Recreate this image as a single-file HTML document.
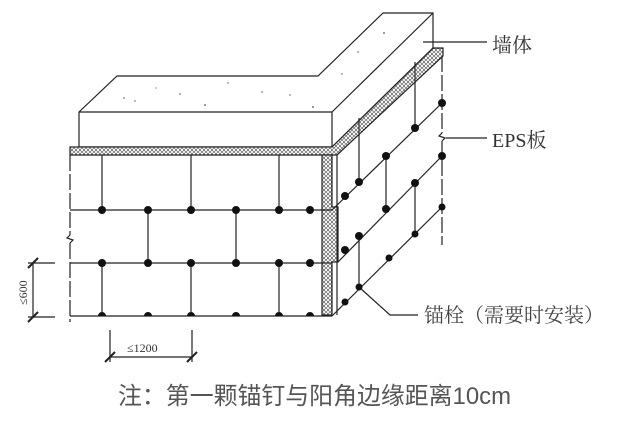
<!DOCTYPE html>
<html><head><meta charset="utf-8"><style>
html,body{margin:0;padding:0;background:#fff;width:640px;height:422px;overflow:hidden}
svg{display:block}
text{font-family:"Liberation Serif","Noto Serif CJK SC",serif}
</style></head><body>
<svg width="640" height="422" viewBox="0 0 640 422" xmlns="http://www.w3.org/2000/svg">
<defs>
<pattern id="hx" width="4" height="4" patternUnits="userSpaceOnUse">
<rect width="4" height="4" fill="#fff"/><circle cx="2" cy="2" r="1.5" fill="none" stroke="#333" stroke-width="0.6"/>
</pattern>
</defs>
<g stroke="#222" stroke-width="1.2" fill="none">
<polygon points="79,112 117,76 318,76 383,13 433,13 433,48 332,147 79,147" fill="#fff"/>
<line x1="79" y1="112" x2="332" y2="112"/>
<line x1="332" y1="112" x2="332" y2="147"/>
<line x1="332" y1="112" x2="433" y2="13"/>
<polygon points="70,147 332,147 433,48 443,48 443,56 337,155 70,155" fill="url(#hx)"/>
<polygon points="322,155 332,155 332,207 338,207 338,262 332,262 332,315 322,315" fill="url(#hx)"/>
<line x1="70" y1="155" x2="70" y2="235" stroke-dasharray="16,3"/>
<path d="M70,235 l-3,3 l6,2 l-3,3"/>
<line x1="70" y1="243" x2="70" y2="322" stroke-dasharray="16,3"/>
<line x1="70" y1="210" x2="332" y2="210"/>
<line x1="70" y1="263" x2="332" y2="263"/>
<line x1="70" y1="316" x2="332" y2="316"/>
<line x1="102" y1="155" x2="102" y2="210"/><line x1="191" y1="155" x2="191" y2="210"/><line x1="279" y1="155" x2="279" y2="210"/>
<line x1="148" y1="210" x2="148" y2="263"/><line x1="236" y1="210" x2="236" y2="263"/>
<line x1="102" y1="263" x2="102" y2="316"/><line x1="191" y1="263" x2="191" y2="316"/><line x1="279" y1="263" x2="279" y2="316"/>
<line x1="337" y1="155" x2="337" y2="315"/>
<line x1="442" y1="56" x2="442" y2="133" stroke-dasharray="16,3"/>
<path d="M442,133 l-3,3 l6,2 l-3,3"/>
<line x1="442" y1="141" x2="442" y2="245" stroke-dasharray="16,3"/>
<line x1="332" y1="210" x2="442" y2="103"/>
<line x1="338" y1="262" x2="442" y2="156"/>
<line x1="332" y1="316" x2="442" y2="207"/>
<line x1="415" y1="62" x2="415" y2="128"/>
<line x1="359" y1="118" x2="359" y2="182"/>
<line x1="386" y1="156" x2="386" y2="209"/>
<line x1="415" y1="183" x2="415" y2="235"/>
<line x1="359" y1="236" x2="359" y2="287"/>
<line x1="423" y1="42" x2="487" y2="42"/>
<line x1="446" y1="138" x2="487" y2="138"/>
<polyline points="359,287 390,315 418,315"/>
<line x1="28" y1="263" x2="55" y2="263"/><line x1="28" y1="317" x2="55" y2="317"/>
<line x1="33" y1="263" x2="33" y2="317"/>
<line x1="28" y1="268" x2="38" y2="258" stroke-width="2"/><line x1="28" y1="322" x2="38" y2="312" stroke-width="2"/>
<line x1="110" y1="330" x2="110" y2="362"/><line x1="192" y1="330" x2="192" y2="362"/>
<line x1="110" y1="357" x2="192" y2="357"/>
<line x1="105" y1="362" x2="115" y2="352" stroke-width="2"/><line x1="187" y1="362" x2="197" y2="352" stroke-width="2"/>
</g>
<g fill="#555">
<circle cx="124" cy="98" r="0.8"/><circle cx="135" cy="101" r="0.7"/><circle cx="180" cy="94" r="0.8"/><circle cx="205" cy="105" r="0.9"/>
<circle cx="228" cy="83" r="0.7"/><circle cx="262" cy="92" r="0.8"/><circle cx="313" cy="107" r="0.9"/><circle cx="290" cy="95" r="0.7"/>
<circle cx="384" cy="33" r="0.9"/><circle cx="358" cy="52" r="0.8"/><circle cx="342" cy="74" r="0.7"/><circle cx="156" cy="88" r="0.6"/>
</g>
<g fill="#111">
<circle cx="102" cy="210" r="4"/><circle cx="148" cy="210" r="4"/><circle cx="191" cy="210" r="4"/><circle cx="236" cy="210" r="4"/><circle cx="279" cy="210" r="4"/><circle cx="310" cy="210" r="4"/>
<circle cx="102" cy="263" r="4"/><circle cx="148" cy="263" r="4"/><circle cx="191" cy="263" r="4"/><circle cx="236" cy="263" r="4"/><circle cx="279" cy="263" r="4"/><circle cx="310" cy="263" r="4"/>
<path d="M98,316 a4,4 0 0 1 8,0z M144,316 a4,4 0 0 1 8,0z M187,316 a4,4 0 0 1 8,0z M232,316 a4,4 0 0 1 8,0z M275,316 a4,4 0 0 1 8,0z M306,316 a4,4 0 0 1 8,0z"/>
<circle cx="442" cy="103" r="4"/><circle cx="415" cy="128" r="4"/><circle cx="386" cy="156" r="4"/><circle cx="359" cy="182" r="4"/><circle cx="345" cy="196" r="4"/>
<circle cx="442" cy="156" r="4"/><circle cx="415" cy="183" r="4"/><circle cx="386" cy="209" r="4"/><circle cx="359" cy="236" r="4"/><circle cx="345" cy="250" r="4"/>
<circle cx="442" cy="207" r="3.5"/><circle cx="415" cy="234" r="3.5"/><circle cx="389" cy="258" r="3.5"/><circle cx="359" cy="287" r="3.5"/><circle cx="345" cy="302" r="3.5"/>
</g>
<g fill="#333" font-size="20">
<text x="492" y="52">墙体</text>
<text x="492" y="147">EPS板</text>
<text x="424" y="322" fill="#444">锚栓（需要时安装）</text>
</g>
<text x="127" y="352" font-size="12" fill="#333" font-family="Liberation Sans, sans-serif">≤1200</text>
<text transform="translate(27,305) rotate(-90)" font-size="12" fill="#333" font-family="Liberation Sans, sans-serif">≤600</text>
<text x="118" y="404" font-size="24" fill="#555" textLength="393" lengthAdjust="spacingAndGlyphs" style="font-family:'Liberation Sans','Noto Sans CJK SC',sans-serif">注：第一颗锚钉与阳角边缘距离10cm</text>
</svg>
</body></html>
